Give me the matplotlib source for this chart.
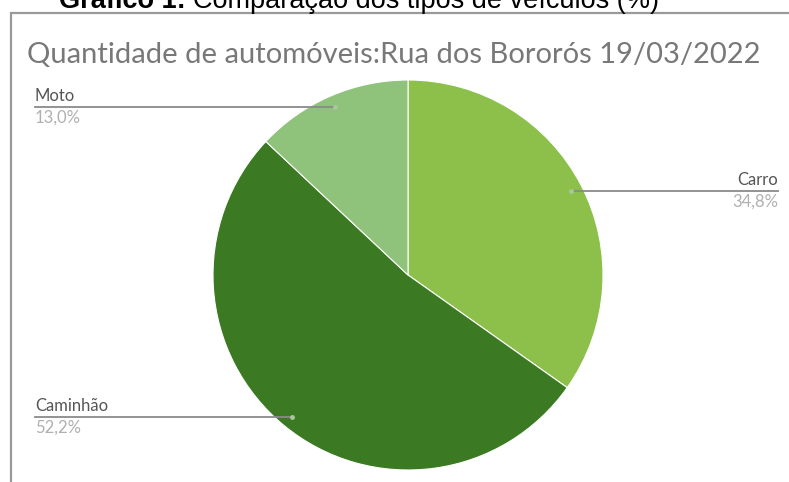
import numpy as np
import matplotlib.pyplot as plt

# vehicle count share, Rua dos Bororós 19/03/2022
categorias = ['Carro', 'Caminhão', 'Moto']
percentuais = [34.8, 52.2, 13.0]
cores = ['#8cc04b', '#3b7a22', '#8fc27a']
lado = ['right', 'left', 'left']   # side where each label sits

W, H = 789, 482

def py(y):
    # top-down pixel row -> axes y
    return H - y

fig = plt.figure(figsize=(W / 100, H / 100), dpi=100)
ax = fig.add_axes([0, 0, 1, 1])

cx, cy, R = 408, py(275), 195
wedges, _ = ax.pie(percentuais, colors=cores, startangle=90, counterclock=False,
                   center=(cx, cy), radius=R,
                   wedgeprops=dict(edgecolor='white', linewidth=0.8))
ax.set_xlim(0, W)
ax.set_ylim(0, H)
ax.set_aspect('auto')
ax.axis('off')

# chart frame
ax.plot([11, 11, W], [0, py(13), py(13)], color='#9a9a9a', lw=1.6,
        solid_joinstyle='miter', zorder=1)

# title
ax.text(27, py(63), 'Quantidade de automóveis:Rua dos Bororós 19/03/2022',
        fontsize=21, family='Lato', color='#787878', va='baseline', ha='left')

# labels with leader lines
for w, nome, v, s in zip(wedges, categorias, percentuais, lado):
    ang = np.deg2rad((w.theta1 + w.theta2) / 2)
    ax_, ay_ = cx + 0.94 * R * np.cos(ang), cy + 0.94 * R * np.sin(ang)
    xe = 35 if s == 'left' else 778
    ax.plot([xe, ax_], [ay_, ay_], color='#8a8a8a', lw=1.3, zorder=3)
    ax.plot([ax_], [ay_], 'o', ms=2.5, color='#a8c89a', zorder=4)
    ax.text(xe, ay_ + 3, nome, ha=s, va='bottom', fontsize=12,
            family='Lato', color='#555555')
    ax.text(xe, ay_ - 3, f'{v:.1f}'.replace('.', ',') + '%', ha=s, va='top',
            fontsize=12, family='Lato', color='#b0b0b0')

# figure caption, clipped by the top edge
r = fig.canvas.get_renderer()
t1 = fig.text(59 / W, py(8) / H, 'Gráfico 1:', fontsize=19.5, fontweight='bold',
              family='Liberation Sans', va='baseline', ha='left')
bb = t1.get_window_extent(r)
fig.text((bb.x1 + 7) / W, py(8) / H, 'Comparação dos tipos de veículos (%)',
         fontsize=19.5, family='Liberation Sans', va='baseline', ha='left')

fig.savefig('out.png', dpi=100)
